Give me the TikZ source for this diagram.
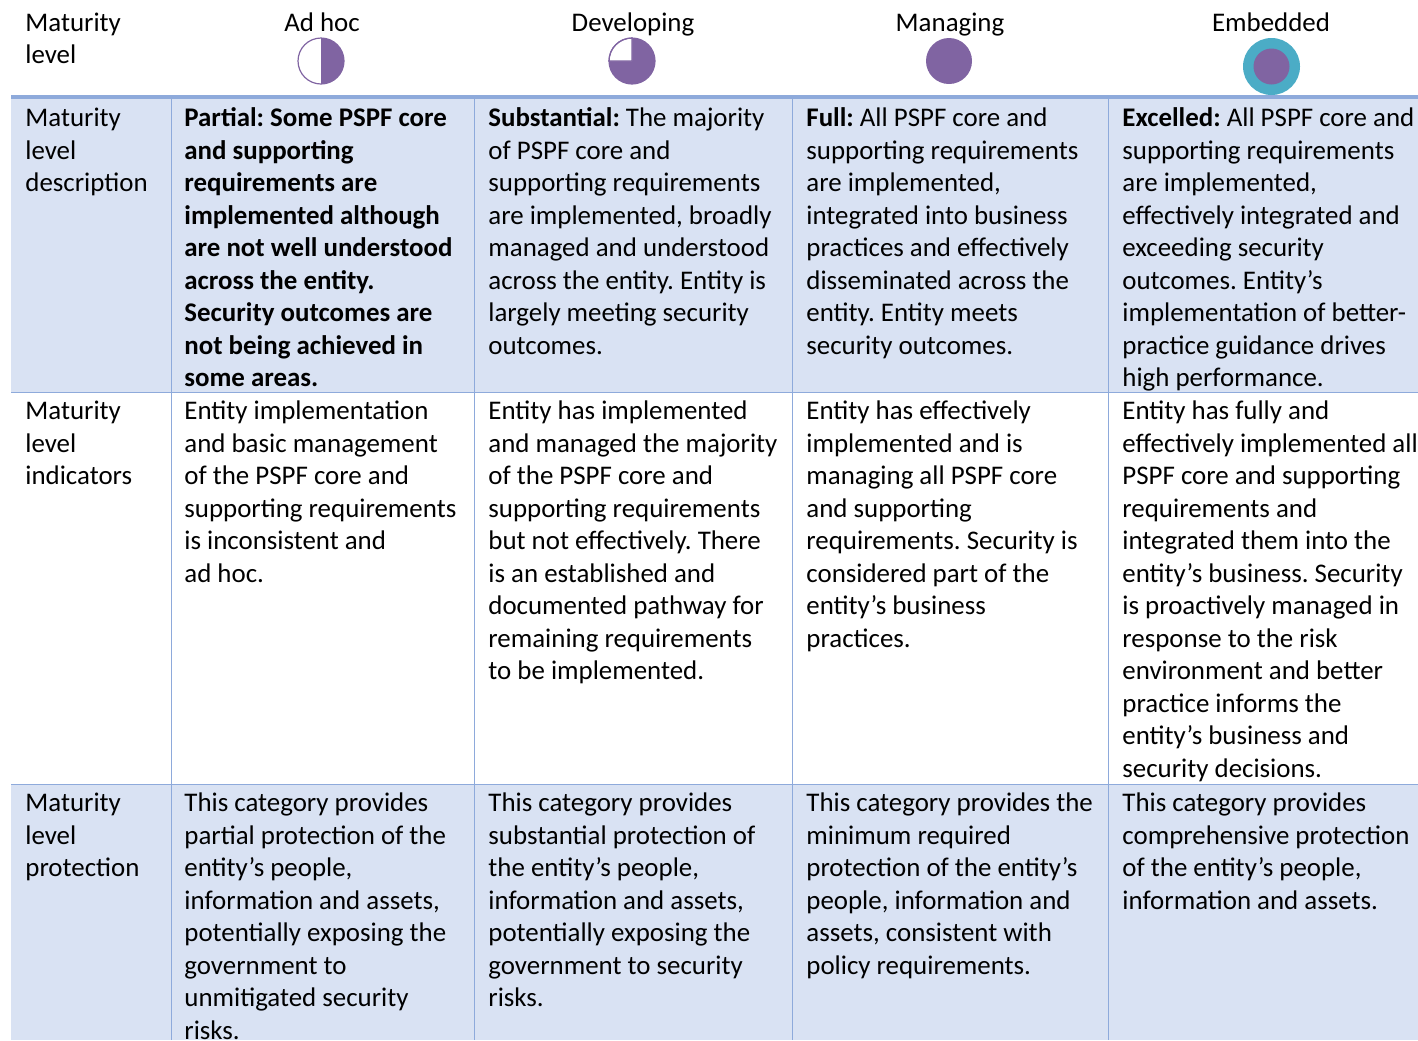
\documentclass[tikz,border=0pt]{standalone}
\usepackage{fontspec}
\setmainfont{Carlito}
\usepackage{tikz}
\definecolor{tablefill}{HTML}{D9E2F3}
\definecolor{tableline}{HTML}{8EAADB}
\definecolor{levelpurple}{HTML}{8064A2}
\definecolor{levelteal}{HTML}{4BACC6}
\frenchspacing

\begin{document}
\begin{tikzpicture}[x=0.5pt, y=-0.5pt,
    cell/.style={anchor=north west, inner sep=0pt, align=left, font=\fontsize{13.45}{16.25}\selectfont},
    boldcell/.style={cell, font=\fontsize{13.45}{16.25}\selectfont\bfseries},
    head/.style={anchor=north, inner sep=0pt, font=\fontsize{13.45}{16.25}\selectfont},
    icon/.style={draw=levelpurple, line width=0.6pt}]
    \useasboundingbox (0,0) rectangle (1418,1040);
    % Hintergrund
    \fill[tablefill] (11,99) rectangle (1418,392);
    \fill[tablefill] (11,784) rectangle (1418,1040);
    % Linien
    \draw[tableline, line width=2pt] (11,97) -- (1418,97);
    \draw[tableline, line width=0.5pt] (11,392) -- (1418,392);
    \draw[tableline, line width=0.5pt] (11,784) -- (1418,784);
    \draw[tableline, line width=0.5pt] (171,99) -- (171,1040);
    \draw[tableline, line width=0.5pt] (474,99) -- (474,1040);
    \draw[tableline, line width=0.5pt] (792,99) -- (792,1040);
    \draw[tableline, line width=0.5pt] (1108,99) -- (1108,1040);
    % Kopfzeile
    \node[cell] (h-level) at (25,8) {\strut Maturity\\level};
    \node[head] (h-adhoc) at (322,8) {\strut Ad hoc};
    \node[head] (h-developing) at (633,8) {\strut Developing};
    \node[head] (h-managing) at (950,8) {\strut Managing};
    \node[head] (h-embedded) at (1271,8) {\strut Embedded};
    % Symbole
    \coordinate (i-adhoc) at (321,61);
    \coordinate (i-developing) at (632,61);
    \coordinate (i-managing) at (949,61);
    \coordinate (i-embedded) at (1271.5,66.5);
    \fill[white] (i-adhoc) circle[radius=23];
    \fill[levelpurple] (i-adhoc) -- ++(0,-23) arc[start angle=270, end angle=450, radius=23] -- cycle;
    \draw[icon] (i-adhoc) circle[radius=23];
    \fill[levelpurple] (i-developing) circle[radius=23];
    \filldraw[fill=white, icon] (i-developing) -- ++(-23,0) arc[start angle=180, end angle=270, radius=23] -- cycle;
    \draw[icon] (i-developing) circle[radius=23];
    \fill[levelpurple] (i-managing) circle[radius=23];
    \fill[levelteal] (i-embedded) circle[radius=28.5];
    \fill[levelpurple] (i-embedded) circle[radius=18];
    % Beschreibung
    \node[cell] (d-label) at (25,103.5) {\strut Maturity\\level\\description};
    \node[boldcell] (d-adhoc) at (184,103.5) {\strut Partial: Some PSPF core\\and supporting\\requirements are\\implemented although\\are not well understood\\across the entity.\\Security outcomes are\\not being achieved in\\some areas.};
    \node[cell] (d-developing) at (488,103.5) {\strut\textbf{Substantial:} The majority\\of PSPF core and\\supporting requirements\\are implemented, broadly\\managed and understood\\across the entity. Entity is\\largely meeting security\\outcomes.};
    \node[cell] (d-managing) at (806,103.5) {\strut\textbf{Full:} All PSPF core and\\supporting requirements\\are implemented,\\integrated into business\\practices and effectively\\disseminated across the\\entity. Entity meets\\security outcomes.};
    \node[cell] (d-embedded) at (1122,103.5) {\strut\textbf{Excelled:} All PSPF core and\\supporting requirements\\are implemented,\\effectively integrated and\\exceeding security\\outcomes. Entity’s\\implementation of better-\\practice guidance drives\\high performance.};
    % Indikatoren
    \node[cell] (n-label) at (25,396.5) {\strut Maturity\\level\\indicators};
    \node[cell] (n-adhoc) at (184,396.5) {\strut Entity implementation\\and basic management\\of the PSPF core and\\supporting requirements\\is inconsistent and\\ad hoc.};
    \node[cell] (n-developing) at (488,396.5) {\strut Entity has implemented\\and managed the majority\\of the PSPF core and\\supporting requirements\\but not effectively. There\\is an established and\\documented pathway for\\remaining requirements\\to be implemented.};
    \node[cell] (n-managing) at (806,396.5) {\strut Entity has effectively\\implemented and is\\managing all PSPF core\\and supporting\\requirements. Security is\\considered part of the\\entity’s business\\practices.};
    \node[cell] (n-embedded) at (1122,396.5) {\strut Entity has fully and\\effectively implemented all\\PSPF core and supporting\\requirements and\\integrated them into the\\entity’s business. Security\\is proactively managed in\\response to the risk\\environment and better\\practice informs the\\entity’s business and\\security decisions.};
    % Schutz
    \node[cell] (p-label) at (25,788.5) {\strut Maturity\\level\\protection};
    \node[cell] (p-adhoc) at (184,788.5) {\strut This category provides\\partial protection of the\\entity’s people,\\information and assets,\\potentially exposing the\\government to\\unmitigated security\\risks.};
    \node[cell] (p-developing) at (488,788.5) {\strut This category provides\\substantial protection of\\the entity’s people,\\information and assets,\\potentially exposing the\\government to security\\risks.};
    \node[cell] (p-managing) at (806,788.5) {\strut This category provides the\\minimum required\\protection of the entity’s\\people, information and\\assets, consistent with\\policy requirements.};
    \node[cell] (p-embedded) at (1122,788.5) {\strut This category provides\\comprehensive protection\\of the entity’s people,\\information and assets.};
\end{tikzpicture}
\end{document}
